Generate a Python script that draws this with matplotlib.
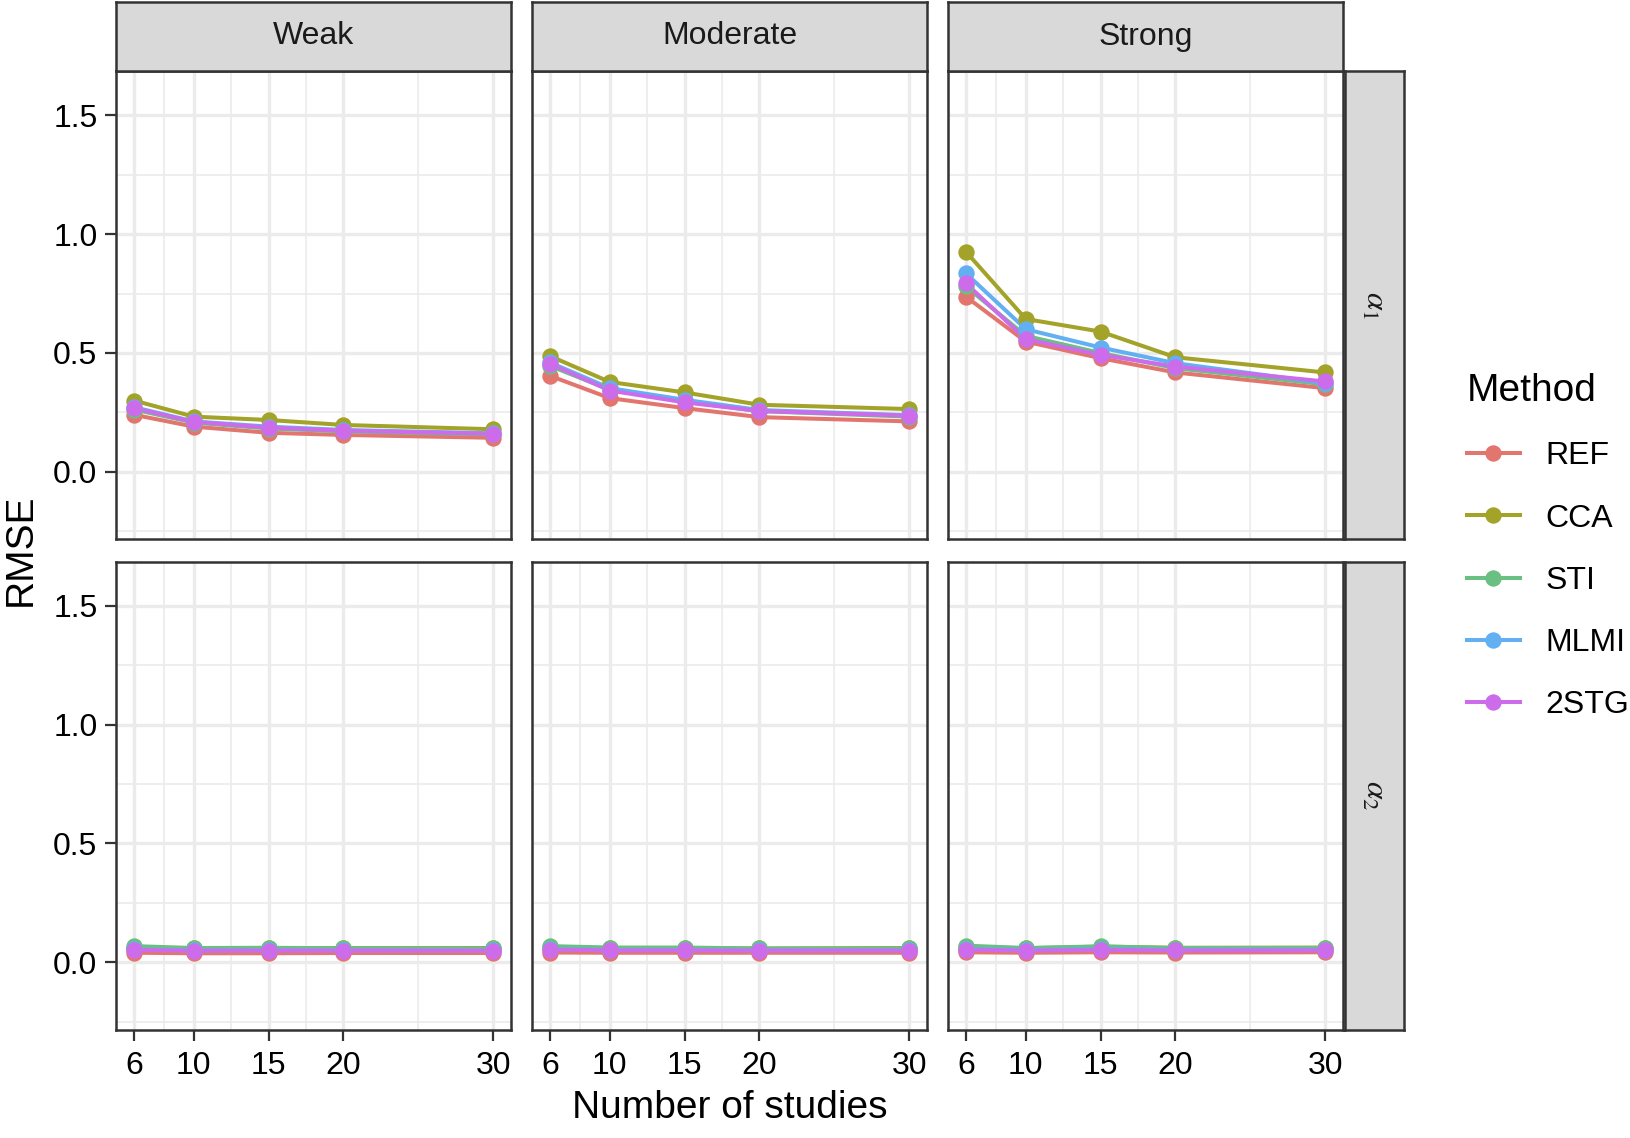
import matplotlib
matplotlib.use("Agg")
import matplotlib.pyplot as plt
from matplotlib.lines import Line2D
from matplotlib.ticker import FixedLocator

# ============================================
# DATA
# ============================================

studies = [6, 10, 15, 20, 30]
methods = ["REF", "CCA", "STI", "MLMI", "2STG"]
strengths = ["Weak", "Moderate", "Strong"]
params = [r"$\alpha_1$", r"$\alpha_2$"]

colors = ["#E2766E", "#A3A32A", "#6CBF82", "#62B0F2", "#CD6CEB"]

# alpha_1 rows
a1_weak = {
    "REF":  [0.240, 0.190, 0.164, 0.155, 0.143],
    "CCA":  [0.300, 0.232, 0.218, 0.197, 0.179],
    "STI":  [0.262, 0.207, 0.182, 0.170, 0.157],
    "MLMI": [0.272, 0.212, 0.190, 0.176, 0.162],
    "2STG": [0.268, 0.210, 0.186, 0.173, 0.160],
}
a1_moderate = {
    "REF":  [0.404, 0.310, 0.268, 0.230, 0.212],
    "CCA":  [0.487, 0.378, 0.334, 0.282, 0.264],
    "STI":  [0.446, 0.345, 0.296, 0.255, 0.232],
    "MLMI": [0.460, 0.352, 0.303, 0.260, 0.238],
    "2STG": [0.455, 0.342, 0.292, 0.256, 0.236],
}
a1_strong = {
    "REF":  [0.737, 0.548, 0.478, 0.418, 0.352],
    "CCA":  [0.926, 0.643, 0.590, 0.482, 0.418],
    "STI":  [0.780, 0.572, 0.500, 0.436, 0.368],
    "MLMI": [0.835, 0.600, 0.523, 0.457, 0.373],
    "2STG": [0.793, 0.558, 0.492, 0.443, 0.380],
}

# alpha_2 rows
a2_weak = {
    "REF":  [0.040, 0.038, 0.038, 0.039, 0.039],
    "CCA":  [0.062, 0.058, 0.059, 0.060, 0.060],
    "STI":  [0.068, 0.060, 0.061, 0.059, 0.058],
    "MLMI": [0.054, 0.050, 0.051, 0.051, 0.050],
    "2STG": [0.052, 0.049, 0.049, 0.049, 0.049],
}
a2_moderate = {
    "REF":  [0.041, 0.040, 0.040, 0.040, 0.040],
    "CCA":  [0.063, 0.060, 0.060, 0.058, 0.060],
    "STI":  [0.068, 0.062, 0.062, 0.058, 0.058],
    "MLMI": [0.055, 0.052, 0.052, 0.051, 0.051],
    "2STG": [0.053, 0.050, 0.050, 0.049, 0.049],
}
a2_strong = {
    "REF":  [0.042, 0.040, 0.042, 0.041, 0.042],
    "CCA":  [0.064, 0.059, 0.066, 0.061, 0.062],
    "STI":  [0.070, 0.060, 0.067, 0.060, 0.060],
    "MLMI": [0.056, 0.052, 0.055, 0.053, 0.053],
    "2STG": [0.053, 0.049, 0.052, 0.050, 0.050],
}

grid_data = [
    [a1_weak, a1_moderate, a1_strong],
    [a2_weak, a2_moderate, a2_strong],
]

x_ticks = [6, 10, 15, 20, 30]
x_minor = [8, 12.5, 17.5, 25]
y_ticks = [0.0, 0.5, 1.0, 1.5]
y_minor = [-0.25, 0.25, 0.75, 1.25]

# ============================================
# FIGURE SETUP
# ============================================

plt.rcParams["font.family"] = ["Liberation Sans", "DejaVu Sans"]
plt.rcParams["mathtext.fontset"] = "stix"

W, H = 1631, 1138
fig = plt.figure(figsize=(W / 100, H / 100), dpi=100)


def rect(x0, y0, w, h):
    # pixel box (top-left origin) -> figure fraction
    return [x0 / W, 1 - (y0 + h) / H, w / W, h / H]


border = "#333333"
col_x = [116, 532, 948]
panel_w = 395
row_y = [71, 561.5]
panel_h = 468
strip_h = 69
rstrip_x = 1345
rstrip_w = 59

small = 23
big = 28
line_w = 2.9
mark_s = 11.8

# ============================================
# PANELS
# ============================================

for r in range(2):
    for c in range(3):

        ax = fig.add_axes(rect(col_x[c], row_y[r], panel_w, panel_h))

        data = grid_data[r][c]

        # lines first, then points (ggplot layer order)
        for m, col in zip(methods, colors):
            ax.plot(studies, data[m], color=col, lw=line_w,
                    solid_capstyle="butt", zorder=3)
        for m, col in zip(methods, colors):
            ax.plot(studies, data[m], "o", color=col, ms=mark_s,
                    markeredgewidth=0, zorder=4)

        ax.set_xlim(4.8, 31.2)
        ax.set_ylim(-0.283, 1.687)

        ax.xaxis.set_major_locator(FixedLocator(x_ticks))
        ax.xaxis.set_minor_locator(FixedLocator(x_minor))
        ax.yaxis.set_major_locator(FixedLocator(y_ticks))
        ax.yaxis.set_minor_locator(FixedLocator(y_minor))
        ax.set_yticklabels(["0.0", "0.5", "1.0", "1.5"])

        ax.grid(True, which="major", color="#EBEBEB", lw=2.4, zorder=0)
        ax.grid(True, which="minor", color="#EBEBEB", lw=1.2, zorder=0)
        ax.set_axisbelow(True)

        for s in ax.spines.values():
            s.set_color(border)
            s.set_linewidth(1.8)
            s.set_zorder(5)

        ax.tick_params(which="minor", length=0)
        ax.tick_params(which="major", length=7.9, width=1.6,
                       color=border, labelsize=small, labelcolor="black")
        ax.tick_params(axis="x", pad=7.5)
        ax.tick_params(axis="y", pad=5.5)

        if c != 0:
            ax.tick_params(axis="y", left=False, labelleft=False)
        if r != 1:
            ax.tick_params(axis="x", bottom=False, labelbottom=False)

        # right-hand strip
        if c == 2:
            sx = fig.add_axes(rect(rstrip_x, row_y[r], rstrip_w, panel_h))
            sx.set_facecolor("#D9D9D9")
            sx.set_xticks([])
            sx.set_yticks([])
            for s in sx.spines.values():
                s.set_color(border)
                s.set_linewidth(1.8)
            sx.text(0.5, 0.5, params[r], rotation=-90, ha="center",
                    va="center", fontsize=small, color="#1A1A1A",
                    transform=sx.transAxes)

# top strips
for c in range(3):
    st = fig.add_axes(rect(col_x[c], 2, panel_w, strip_h))
    st.set_facecolor("#D9D9D9")
    st.set_xticks([])
    st.set_yticks([])
    for s in st.spines.values():
        s.set_color(border)
        s.set_linewidth(1.8)
    st.text(0.5, 0.5, strengths[c], ha="center", va="center",
            fontsize=small, color="#1A1A1A", transform=st.transAxes)

# ============================================
# AXIS TITLES
# ============================================

fig.text(729.5 / W, 1 - 1108 / H, "Number of studies", ha="center",
         va="center", fontsize=big)
fig.text(21 / W, 1 - 550 / H, "RMSE", ha="center", va="center",
         rotation=90, fontsize=big)

# ============================================
# LEGEND
# ============================================

handles = [
    Line2D([0], [0], color=col, lw=line_w, marker="o", ms=mark_s,
           markeredgewidth=0)
    for col in colors
]

leg = fig.legend(
    handles, methods,
    title="Method",
    loc="upper left",
    bbox_to_anchor=(1467 / W, 1 - 373 / H),
    frameon=False,
    fontsize=small,
    title_fontsize=big,
    handlelength=1.65,
    handletextpad=0.8,
    labelspacing=1.01,
    borderpad=0,
    borderaxespad=0,
    alignment="left",
)

fig.savefig("out.png", dpi=100)
